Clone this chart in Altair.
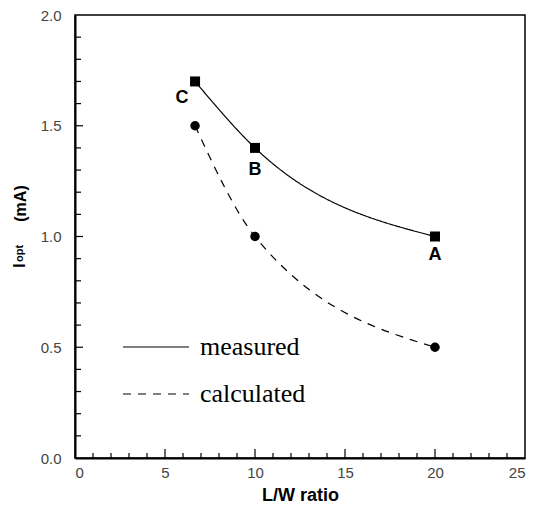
import altair as alt
import pandas as pd

# ---- data ----
lw_ratio = [6.67, 10.0, 20.0]
measured = [1.70, 1.40, 1.00]
calculated = [1.50, 1.00, 0.50]
point_labels = ["C", "B", "A"]
series_names = ["measured", "calculated"]

x_ticks = [0, 5, 10, 15, 20, 25]
y_ticks = [0.0, 0.5, 1.0, 1.5, 2.0]
x_minor = [1, 2, 3, 4, 6, 7, 8, 9, 11, 12, 13, 14, 16, 17, 18, 19, 21, 22, 23, 24]
x_major = [5, 10, 15, 20]
y_minor = [0.1, 0.2, 0.3, 0.4, 0.6, 0.7, 0.8, 0.9, 1.1, 1.2, 1.3, 1.4, 1.6, 1.7, 1.8, 1.9]
y_major = [0.5, 1.0, 1.5]

W, H = 450, 443

rows = []
for x, m, c, lab in zip(lw_ratio, measured, calculated, point_labels):
    rows.append({"lw": x, "I": m, "series": "measured", "label": lab})
    rows.append({"lw": x, "I": c, "series": "calculated", "label": lab})
df = pd.DataFrame(rows)
meas = df[df.series == "measured"]
calc = df[df.series == "calculated"]

xs = alt.Scale(domain=[0, 25], nice=False, zero=False)
ys = alt.Scale(domain=[0, 2], nice=False, zero=False)

lab_font = "Liberation Sans"

xaxis = alt.Axis(values=x_ticks, format="d", grid=False, ticks=False, domainColor="black",
                 domainWidth=2, labelFont=lab_font, labelFontSize=15, labelColor="#444",
                 labelPadding=7, title="L/W ratio", titleFont=lab_font, titleFontSize=18,
                 titleFontWeight="bold", titleColor="black", titlePadding=6)
yaxis = alt.Axis(values=y_ticks, format=".1f", grid=False, ticks=False, domainColor="black",
                 domainWidth=2, labelFont=lab_font, labelFontSize=15, labelColor="#444",
                 labelPadding=14, title="(mA)", titleFont=lab_font, titleFontSize=16,
                 titleFontWeight="bold", titleColor="black", titleAngle=270,
                 titleX=-50, titleY=188, titleAlign="center", titleBaseline="alphabetic")

dash_scale = alt.Scale(domain=series_names, range=[[1, 0], [8, 7]])

X = lambda f: alt.X(f, scale=xs, axis=xaxis)
Y = lambda f: alt.Y(f, scale=ys, axis=yaxis)

lines = alt.Chart(df).mark_line(interpolate="monotone", color="black", strokeWidth=1.2).encode(
    x=X("lw:Q"),
    y=Y("I:Q"),
    strokeDash=alt.StrokeDash("series:N", scale=dash_scale, sort=series_names,
                              legend=alt.Legend(title=None, orient="none", legendX=47, legendY=298,
                                                symbolType="stroke", symbolSize=4356,
                                                symbolStrokeWidth=1.2, symbolStrokeColor="black",
                                                labelFont="Liberation Serif", labelFontSize=26,
                                                labelColor="black", labelOffset=10,
                                                rowPadding=0)),
    detail="series:N",
)

squares = alt.Chart(meas).mark_point(shape="square", filled=True, color="black", size=100, opacity=1).encode(
    x=X("lw:Q"), y=Y("I:Q"))
circles = alt.Chart(calc).mark_point(shape="circle", filled=True, color="black", size=90, opacity=1).encode(
    x=X("lw:Q"), y=Y("I:Q"))

def label_layer(name, dx, dy):
    return alt.Chart(meas[meas.label == name]).mark_text(
        font=lab_font, fontSize=18, fontWeight="bold", color="black", dx=dx, dy=dy
    ).encode(x=X("lw:Q"), y=Y("I:Q"), text="label:N")

labels = label_layer("C", -13, 17) + label_layer("B", 0, 22) + label_layer("A", 0, 18)

def xticks(vals, length):
    return alt.Chart(pd.DataFrame({"v": vals})).mark_rule(color="black", strokeWidth=1.2).encode(
        x=X("v:Q"), y=alt.value(H), y2=alt.value(H - length))

def yticks(vals, length):
    return alt.Chart(pd.DataFrame({"v": vals})).mark_rule(color="black", strokeWidth=1.2).encode(
        y=Y("v:Q"), x=alt.value(0), x2=alt.value(length))

ticks = xticks(x_minor, 5) + xticks(x_major, 9) + yticks(y_minor, 6) + yticks(y_major, 8)

def ytitle(text, size, xpos, ypos):
    return alt.Chart(pd.DataFrame({"t": [text]})).mark_text(
        angle=270, align="left", baseline="alphabetic", font=lab_font, fontSize=size,
        fontWeight="bold", color="black"
    ).encode(text="t:N", x=alt.value(xpos), y=alt.value(ypos))

ytitles = ytitle("I", 17, -50, 253) + ytitle("opt", 11, -52, 247)

chart = alt.layer(lines, squares, circles, labels, ticks, ytitles).properties(
    width=W, height=H,
    autosize=alt.AutoSizeParams(type="none"),
    padding={"left": 67, "top": 7, "right": 1, "bottom": 47},
).configure_view(stroke="black", strokeWidth=1.5)

chart.save("out.html", embed_options={"renderer": "svg", "actions": False})
